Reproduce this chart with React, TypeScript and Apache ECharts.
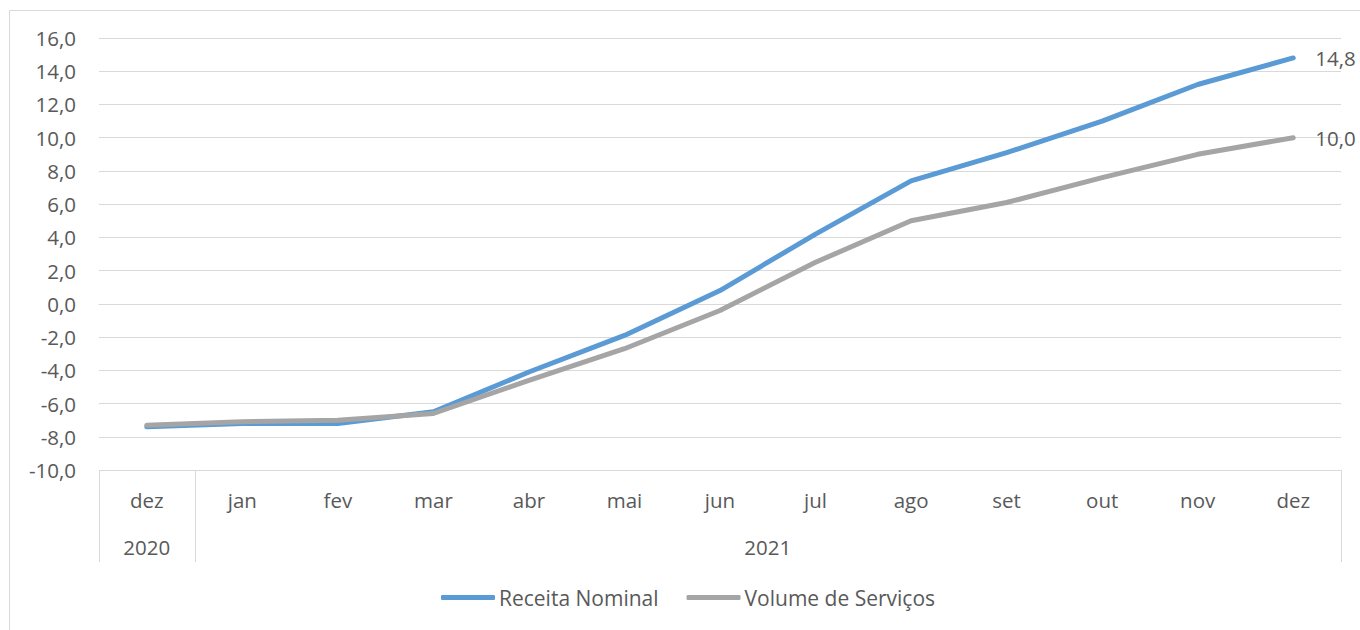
import React, { useEffect, useRef } from "react";
import * as echarts from "echarts";

const months = ["dez", "jan", "fev", "mar", "abr", "mai", "jun", "jul", "ago", "set", "out", "nov", "dez"];
const yearGroups = [
  { label: "2020", from: 0, to: 0 },
  { label: "2021", from: 1, to: 12 },
];
const receitaNominal = [-7.4, -7.2, -7.2, -6.5, -4.1, -1.9, 0.8, 4.2, 7.4, 9.1, 11.0, 13.2, 14.8];
const volumeServicos = [-7.3, -7.1, -7.0, -6.6, -4.6, -2.7, -0.4, 2.5, 5.0, 6.1, 7.6, 9.0, 10.0];
const seriesNames = ["Receita Nominal", "Volume de Serviços"];

const FONT = "'Open Sans', 'Noto Sans', sans-serif";
const TEXT = "#595959";
const GRID = "#d9d9d9";
const FS = 20.5;
const fmt = (v: number) => v.toFixed(1).replace(".", ",");

export default function App() {
  const ref = useRef<HTMLDivElement>(null);
  useEffect(() => {
    if (!ref.current) return;
    const chart = echarts.init(ref.current, undefined, { renderer: "svg" });
    const endLabel = {
      show: true,
      distance: 22,
      color: TEXT,
      fontFamily: FONT,
      fontSize: FS,
      formatter: (p: any) => fmt(p.value),
    };
    chart.setOption({
      animation: false,
      backgroundColor: "#fff",
      textStyle: { fontFamily: FONT },
      grid: { left: 99, right: 19, top: 38, bottom: 160, containLabel: false },
      xAxis: {
        type: "category",
        data: months,
        boundaryGap: true,
        axisLine: { show: true, lineStyle: { color: GRID, width: 1 } },
        axisTick: { show: false },
        axisLabel: { color: TEXT, fontSize: FS, fontFamily: FONT, margin: 19, interval: 0 },
      },
      yAxis: {
        type: "value",
        min: -10,
        max: 16,
        interval: 2,
        axisLine: { show: false },
        axisTick: { show: false },
        axisLabel: { color: TEXT, fontSize: FS, fontFamily: FONT, margin: 23, formatter: (v: number) => fmt(v) },
        splitLine: { lineStyle: { color: GRID, width: 1 } },
      },
      legend: {
        left: 441,
        top: 587,
        padding: 0,
        itemWidth: 54,
        itemHeight: 5,
        itemGap: 28,
        icon: "roundRect",
        textStyle: { color: TEXT, fontSize: 21, fontFamily: FONT, padding: [0, 0, 0, -1] },
        data: seriesNames,
      },
      series: [
        {
          name: seriesNames[0],
          type: "line",
          data: receitaNominal,
          symbol: "none",
          color: "#5B9BD5",
          lineStyle: { width: 5, color: "#5B9BD5", cap: "round", join: "round" },
          endLabel,
        },
        {
          name: seriesNames[1],
          type: "line",
          data: volumeServicos,
          symbol: "none",
          color: "#A5A5A5",
          lineStyle: { width: 5, color: "#A5A5A5", cap: "round", join: "round" },
          endLabel,
        },
      ],
    });

    // Multi-level category axis decorations derived from the axis scale
    const c0 = chart.convertToPixel({ xAxisIndex: 0 }, 0) as number;
    const c1 = chart.convertToPixel({ xAxisIndex: 0 }, 1) as number;
    const band = c1 - c0;
    const axisY = chart.convertToPixel({ yAxisIndex: 0 }, -10) as number;
    const bottomY = axisY + 92;
    const boundary = (i: number) => c0 - band / 2 + i * band;
    const graphics: any[] = [
      {
        type: "rect",
        shape: { x: 9.5, y: 10.5, width: 1400, height: 700 },
        style: { fill: "none", stroke: GRID, lineWidth: 1 },
        silent: true,
        z: -10,
      },
    ];
    const bounds = new Set<number>();
    yearGroups.forEach((g) => {
      bounds.add(g.from);
      bounds.add(g.to + 1);
      const cx = (boundary(g.from) + boundary(g.to + 1)) / 2;
      graphics.push({
        type: "text",
        x: cx,
        y: axisY + 77,
        style: { text: g.label, fill: TEXT, font: `${FS}px ${FONT}`, textAlign: "center", textVerticalAlign: "middle" },
      });
    });
    bounds.forEach((i) => {
      const x = Math.round(boundary(i)) + 0.5;
      graphics.push({
        type: "line",
        shape: { x1: x, y1: axisY, x2: x, y2: bottomY },
        style: { stroke: GRID, lineWidth: 1 },
      });
    });
    chart.setOption({ graphic: graphics });

    return () => chart.dispose();
  }, []);
  return <div ref={ref} style={{ position: "fixed", left: 0, top: 0, width: 1360, height: 630 }} />;
}
